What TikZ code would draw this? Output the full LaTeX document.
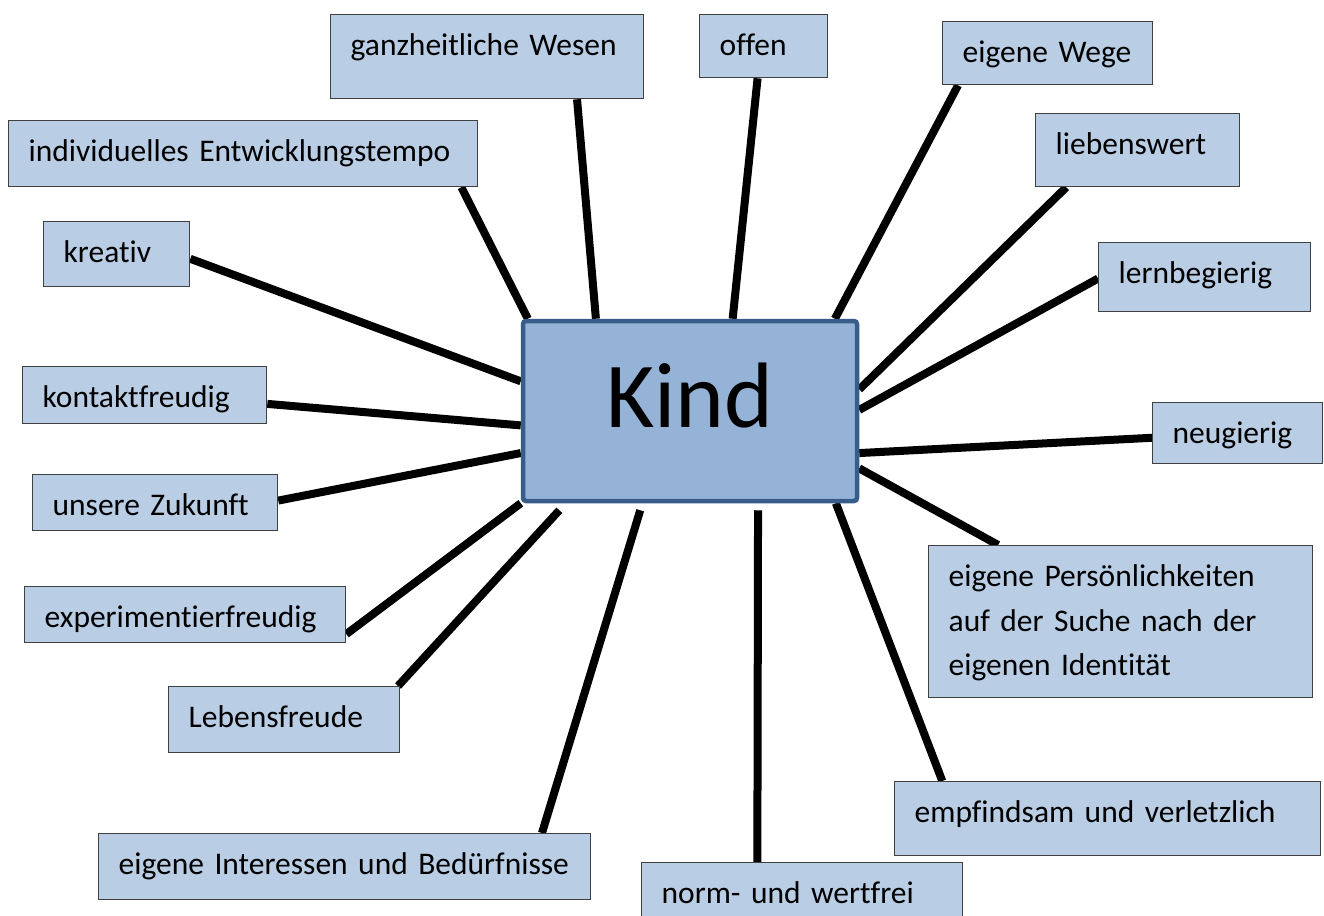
\documentclass[tikz,border=0pt]{standalone}
\usepackage{fontspec}
\setmainfont{Carlito}[Ligatures=NoCommon]
\usetikzlibrary{calc}
\pgfdeclarelayer{bg}
\pgfsetlayers{bg,main}
\definecolor{boxfill}{HTML}{B9CDE5}
\definecolor{boxline}{HTML}{404040}
\definecolor{kindfill}{HTML}{95B3D7}
\definecolor{kindline}{HTML}{385D8A}
\tikzset{
  lbl/.style 2 args={draw=boxline, fill=boxfill, line width=1.3pt, anchor=north west,
    inner xsep=20pt, inner ysep=0pt, text width=#1, align=left,
    text height=41pt, text depth=#2, font=\fontsize{31.5}{44.5}\selectfont},
  kindbox/.style={draw=kindline, fill=kindfill, line width=4.5pt, rounded corners=3pt,
    minimum width=334pt, minimum height=180pt, inner sep=0pt,
    text height=61pt, text depth=29pt, font=\fontsize{93}{93}\selectfont},
  spoke/.style={line width=8pt, black},
}
\begin{document}
\begin{tikzpicture}[x=1pt,y=-1pt]
\clip (0,0) rectangle (1324,915);

\node[kindbox] (kind) at (690,411) {Kind};

\node[lbl={273pt}{43pt}] (ganz) at (330,14) {ganzheitliche Wesen};
\node[lbl={88pt}{22pt}] (offen) at (699,14) {offen};
\node[lbl={170pt}{22pt}] (wege) at (942,21) {eigene Wege};
\node[lbl={429pt}{25pt}] (indiv) at (8,120) {individuelles Entwicklungstempo};
\node[lbl={164pt}{32pt}] (lieb) at (1035,113) {liebenswert};
\node[lbl={106pt}{24pt}] (kreativ) at (43,221) {kreativ};
\node[lbl={172pt}{28pt}] (lern) at (1098,242) {lernbegierig};
\node[lbl={204pt}{16pt}] (kontakt) at (22,366) {kontaktfreudig};
\node[lbl={130pt}{20pt}] (neu) at (1152,402) {neugierig};
\node[lbl={205pt}{15pt}] (zuk) at (32,474) {unsere Zukunft};
\node[lbl={281pt}{15pt}] (exp) at (24,586) {experimentierfreudig};
\node[lbl={344pt}{111pt}] (pers) at (928,545) {eigene Persönlichkeiten\\auf der Suche nach der\\eigenen Identität};
\node[lbl={191pt}{25pt}] (lebens) at (168,686) {Lebensfreude};
\node[lbl={386pt}{33pt}] (empf) at (894,781) {empfindsam und verletzlich};
\node[lbl={452pt}{25pt}] (inter) at (98,833) {eigene Interessen und Bedürfnisse};
\node[lbl={281pt}{40pt}] (norm) at (641,862) {norm- und wertfrei};

\begin{pgfonlayer}{bg}
\fill[white] (0,0) rectangle (1324,915);
\draw[spoke] ($(ganz.south west)!0.786!(ganz.south east)$) -- ($(kind.north west)!0.222!(kind.north east)$);
\draw[spoke] ($(offen.south west)!0.453!(offen.south east)$) -- ($(kind.north west)!0.626!(kind.north east)$);
\draw[spoke] ($(wege.south west)!0.076!(wege.south east)$) -- ($(kind.north west)!0.928!(kind.north east)$);
\draw[spoke] ($(indiv.south west)!0.964!(indiv.south east)$) -- ($(kind.north west)!0.021!(kind.north east)$);
\draw[spoke] ($(lieb.south west)!0.152!(lieb.south east)$) -- ($(kind.north east)!0.383!(kind.south east)$);
\draw[spoke] ($(kreativ.north east)!0.57!(kreativ.south east)$) -- ($(kind.north west)!0.339!(kind.south west)$);
\draw[spoke] ($(lern.north west)!0.52!(lern.south west)$) -- ($(kind.north east)!0.494!(kind.south east)$);
\draw[spoke] ($(kontakt.north east)!0.65!(kontakt.south east)$) -- ($(kind.north west)!0.578!(kind.south west)$);
\draw[spoke] ($(neu.north west)!0.574!(neu.south west)$) -- ($(kind.north east)!0.728!(kind.south east)$);
\draw[spoke] ($(zuk.north east)!0.464!(zuk.south east)$) -- ($(kind.north west)!0.728!(kind.south west)$);
\draw[spoke] ($(exp.north east)!0.84!(exp.south east)$) -- (kind.south west);
\draw[spoke] ($(pers.north west)!0.182!(pers.north east)$) -- ($(kind.north east)!0.811!(kind.south east)$);
\draw[spoke] ($(lebens.north west)!0.99!(lebens.north east)$) -- ($(kind.south west)!0.114!(kind.south east)+(0,7)$);
\draw[spoke] ($(empf.north west)!0.113!(empf.north east)$) -- ($(kind.south west)!0.931!(kind.south east)$);
\draw[spoke] ($(inter.north west)!0.9!(inter.north east)$) -- ($(kind.south west)!0.353!(kind.south east)+(0,7)$);
\draw[spoke] ($(norm.north west)!0.361!(norm.north east)$) -- ($(kind.south west)!0.701!(kind.south east)+(0,7)$);
\end{pgfonlayer}
\end{tikzpicture}
\end{document}
